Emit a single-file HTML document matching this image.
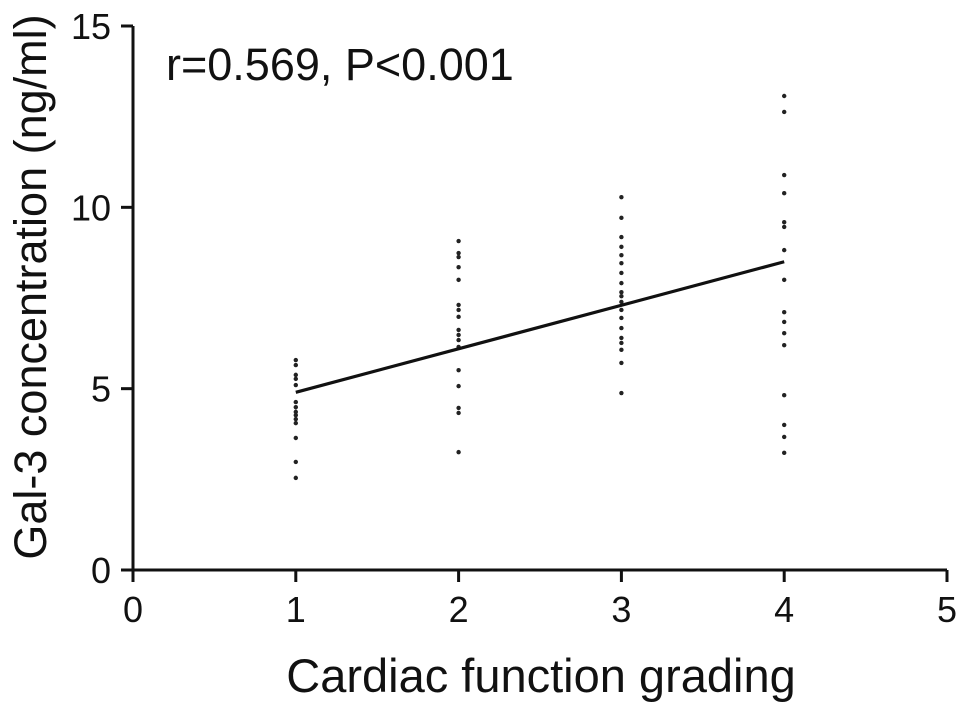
<!DOCTYPE html>
<html><head><meta charset="utf-8"><style>
body{margin:0;background:#fff;}
svg{display:block;font-family:"Liberation Sans",Arial,sans-serif;}
</style></head><body>
<svg id="chart" width="969" height="708">
<g id="axes"></g>
<g id="marks"></g>
<text x="166" y="80" font-size="45" fill="#111">r=0.569, P&lt;0.001</text>
<text x="541" y="692" font-size="47" text-anchor="middle" fill="#111">Cardiac function grading</text>
<text transform="translate(46,287) rotate(-90)" font-size="45" text-anchor="middle" fill="#111">Gal-3 concentration (ng/ml)</text>
</svg>
<script>
const groups = [1, 2, 3, 4];
const group1 = [5.79,5.65,5.38,5.27,5.10,4.63,4.49,4.36,4.27,4.16,4.05,3.64,2.98,2.54];
const group2 = [9.07,8.74,8.63,8.35,8.0,7.31,7.17,6.98,6.62,6.48,6.34,6.15,5.51,5.07,4.47,4.33,3.25];
const group3 = [10.28,9.71,9.18,8.91,8.68,8.46,8.19,7.91,7.66,7.55,7.39,7.17,6.95,6.67,6.40,6.26,6.07,5.71,4.88];
const group4 = [13.07,12.63,10.89,10.39,9.59,9.46,8.82,8.0,7.11,6.84,6.53,6.20,4.82,4.0,3.67,3.23];
const fitX = [1, 4];
const fitY = [4.9, 8.5];
const xTicks = [0,1,2,3,4,5];
const yTicks = [0,5,10,15];

const NS="http://www.w3.org/2000/svg";
const X0=133,X1=947,Y0=570,Y1=26;
const sx=v=>X0+(v-0)/5*(X1-X0);
const sy=v=>Y0-(v-0)/15*(Y0-Y1);
function mk(tag,attrs,parent){const e=document.createElementNS(NS,tag);for(const k in attrs)e.setAttribute(k,attrs[k]);parent.appendChild(e);return e;}
const axes=document.getElementById('axes');
let l=mk('line',{x1:X0,y1:Y1,x2:X0,y2:Y0+1.5,stroke:'#111','stroke-width':3},axes);


l=mk('line',{x1:X0,y1:Y0,x2:X1,y2:Y0,stroke:'#111','stroke-width':3},axes);


yTicks.forEach(v=>{
  const t=mk('line',{x1:X0-12,y1:sy(v),x2:X0,y2:sy(v),stroke:'#111','stroke-width':3},axes);
  
  
  const tx=mk('text',{x:X0-22,y:sy(v)+13,'font-size':36,'text-anchor':'end',fill:'#111'},axes);
  tx.textContent=v;
  
  
});
xTicks.forEach(v=>{
  const t=mk('line',{x1:sx(v),y1:Y0,x2:sx(v),y2:Y0+12,stroke:'#111','stroke-width':3},axes);
  
  
  const tx=mk('text',{x:sx(v),y:Y0+52,'font-size':36,'text-anchor':'middle',fill:'#111'},axes);
  tx.textContent=v;
  
  
});
const marks=document.getElementById('marks');
[group1,group2,group3,group4].forEach((arr,i)=>{
  arr.forEach(v=>{
    const c=mk('circle',{cx:sx(groups[i]),cy:sy(v),r:2.2,fill:'#222'},marks);
    
    
  });
});
const fl=mk('line',{x1:sx(fitX[0]),y1:sy(fitY[0]),x2:sx(fitX[1]),y2:sy(fitY[1]),stroke:'#111','stroke-width':3.2},marks);


</script>
</body></html>
